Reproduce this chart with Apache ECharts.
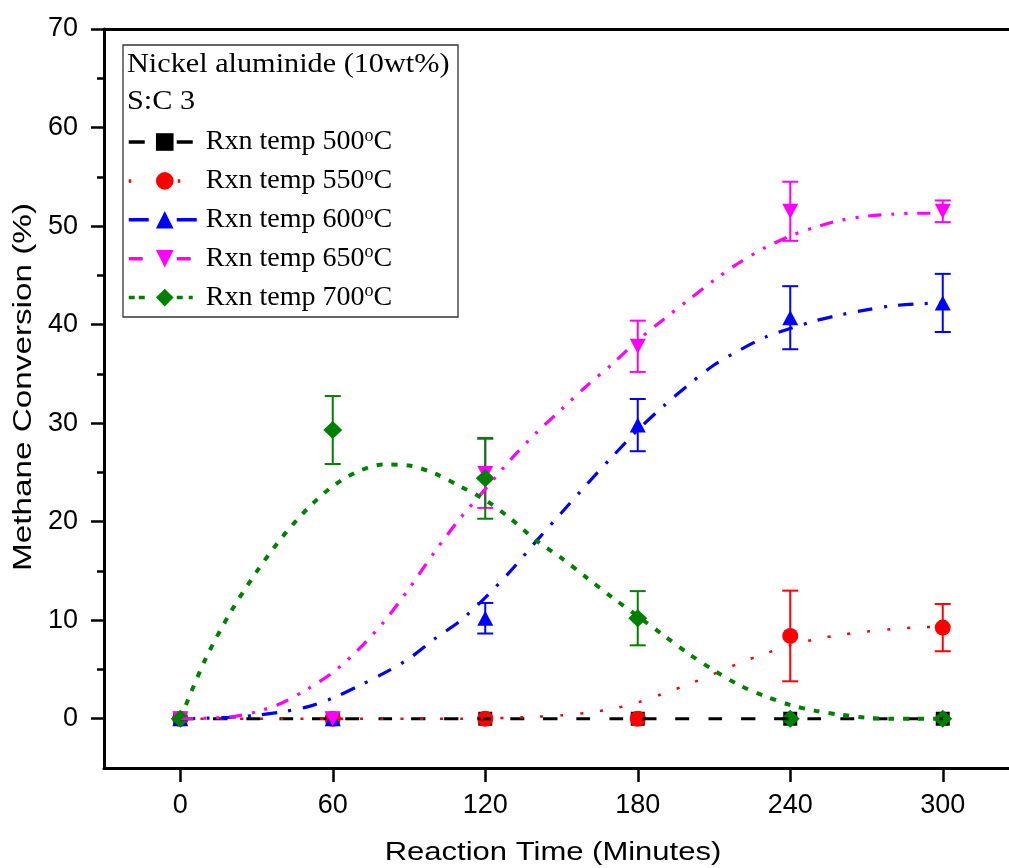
<!DOCTYPE html>
<html>
<head>
<meta charset="utf-8">
<script src="https://cdn.jsdelivr.net/npm/echarts@6/dist/echarts.min.js"></script>
<style>
  html, body { margin: 0; padding: 0; background: #fff; }
  #chart { width: 1009px; height: 868px; }
</style>
</head>
<body>
<div id="chart"></div>
<script>
// Sampling times (minutes) of the measured points
const times = [0, 60, 120, 180, 240, 300];

// Axis ticks
const xTicks = [0, 60, 120, 180, 240, 300];
const yTicks = [0, 10, 20, 30, 40, 50, 60, 70];
const yMinorTicks = [5, 15, 25, 35, 45, 55, 65];

// Reaction temperatures (°C)
const temps = ['500', '550', '600', '650', '700'];

// Mean methane conversion (%) at each sampling time
const conv500 = [0, 0, 0, 0, 0, 0];
const conv550 = [0, 0, 0, 0, 8.4, 9.25];
const conv600 = [0, 0, 10.2, 29.8, 40.7, 42.2];
const conv650 = [0, 0, 24.9, 37.8, 51.5, 51.5];
const conv700 = [0, 29.3, 24.4, 10.2, 0, 0];

// Standard deviation of each point (%)
const err500 = [0, 0, 0, 0, 0, 0];
const err550 = [0, 0, 0, 0, 4.6, 2.4];
const err600 = [0, 0, 1.55, 2.65, 3.2, 2.95];
const err650 = [0, 0, 3.5, 2.6, 3.0, 1.1];
const err700 = [0, 3.45, 4.1, 2.75, 0, 0];

// Fitted trend curves, sampled every 10 minutes
const fitTimes = [0, 10, 20, 30, 40, 50, 60, 70, 80, 90, 100, 110, 120, 130, 140, 150,
                  160, 170, 180, 190, 200, 210, 220, 230, 240, 250, 260, 270, 280, 290, 300];
const fit500 = [0, 0, 0, 0, 0, 0, 0, 0, 0, 0, 0, 0, 0, 0, 0, 0,
                0, 0, 0, 0, 0, 0, 0, 0, 0, 0, 0, 0, 0, 0, 0];
const fit550 = [0, 0, 0, 0, 0, 0, 0, 0, 0, 0, 0, 0, 0.05, 0.1, 0.2, 0.35,
                0.6, 1.0, 1.65, 2.55, 3.5, 4.55, 5.65, 6.6, 7.45, 8.07, 8.52, 8.85, 9.1, 9.27, 9.35];
const fit600 = [0, 0.05, 0.15, 0.35, 0.7, 1.2, 2.1, 3.3, 4.6, 6.1, 8.1, 9.9, 12.3, 15.0, 18.0, 20.9,
                23.8, 26.6, 29.3, 31.7, 33.9, 35.9, 37.4, 38.7, 39.6, 40.4, 41.0, 41.5, 41.9, 42.1, 42.2];
const fit650 = [0, 0.05, 0.2, 0.7, 1.6, 3.0, 4.7, 7.0, 9.8, 13.2, 16.9, 20.3, 23.3, 26.3, 29.0, 31.4,
                33.8, 36.0, 38.4, 40.5, 42.5, 44.5, 46.3, 47.8, 49.0, 49.9, 50.6, 51.0, 51.2, 51.3, 51.3];
const fit700 = [0, 6.1, 10.9, 14.9, 18.4, 21.3, 23.6, 25.1, 25.8, 25.7, 24.9, 23.6, 22.2, 20.3, 18.1, 16.3,
                14.3, 12.3, 10.4, 8.5, 6.6, 4.9, 3.4, 2.3, 1.4, 0.8, 0.4, 0.1, 0, 0, 0];

const means = [conv500, conv550, conv600, conv650, conv700];
const errs = [err500, err550, err600, err650, err700];
const fits = [fit500, fit550, fit600, fit650, fit700];

// Per-temperature styling
const colors = ['#000000', '#ff0000', '#0000ff', '#ff00ff', '#008000'];
const symbols = ['rect', 'circle', 'triangle', 'triangle', 'diamond'];
const symbolRotations = [0, 0, 0, 180, 0];
const symbolSizes = [14, 16, [16, 15], [16, 15], [19, 18]];
const lineWidths = [3, 2.5, 3.2, 3.2, 4];
const dashes = [
  [14, 19],
  [3, 17],
  [15, 11.5, 3, 11.5],
  [13, 10, 3, 10, 3, 10],
  [6, 9]
];
// Dash layout of the short line segments in the legend keys
const legendDashes = [
  [16, 32, 16, 100],
  [2.5, 46.5, 2.5, 100],
  [20, 28, 20, 100],
  [14, 34, 14, 100],
  [6, 4, 6, 32, 6, 6, 4, 100]
];

const sansFont = '"Liberation Sans", Arial, sans-serif';
const serifFont = '"Liberation Serif", "Times New Roman", serif';

function errorBars(k) {
  const color = colors[k];
  const data = [];
  times.forEach((t, i) => {
    if (errs[k][i] > 0) data.push([t, means[k][i] - errs[k][i], means[k][i] + errs[k][i]]);
  });
  return {
    type: 'custom',
    name: temps[k] + ' error',
    silent: true,
    clip: false,
    data: data,
    encode: { x: 0, y: [1, 2] },
    renderItem(params, api) {
      const x = api.value(0);
      const lo = api.coord([x, api.value(1)]);
      const hi = api.coord([x, api.value(2)]);
      const half = 8;
      const style = { stroke: color, lineWidth: 2, fill: null };
      return {
        type: 'group',
        children: [
          { type: 'line', shape: { x1: lo[0], y1: lo[1], x2: hi[0], y2: hi[1] }, style: style },
          { type: 'line', shape: { x1: lo[0] - half, y1: lo[1], x2: lo[0] + half, y2: lo[1] }, style: style },
          { type: 'line', shape: { x1: hi[0] - half, y1: hi[1], x2: hi[0] + half, y2: hi[1] }, style: style }
        ]
      };
    }
  };
}

const series = [];
temps.forEach((temp, k) => {
  // fitted curve (also carries the legend entry: line + symbol)
  series.push({
    type: 'line',
    name: temp,
    data: fitTimes.map((t, i) => [t, fits[k][i]]),
    smooth: 0.3,
    showSymbol: false,
    symbol: symbols[k],
    symbolRotate: symbolRotations[k],
    silent: true,
    itemStyle: { color: colors[k] },
    lineStyle: { color: colors[k], width: lineWidths[k], type: dashes[k], cap: 'butt' }
  });
  series.push(errorBars(k));
  // measured points
  series.push({
    type: 'scatter',
    name: temp + ' data',
    data: times.map((t, i) => [t, means[k][i]]),
    symbol: symbols[k],
    symbolRotate: symbolRotations[k],
    symbolSize: symbolSizes[k],
    silent: true,
    itemStyle: { color: colors[k], opacity: 1 }
  });
});

const axisLineStyle = { color: '#000', width: 3 };
const tickStyle = { color: '#000', width: 2.5 };

const option = {
  animation: false,
  backgroundColor: '#fff',
  grid: { left: 104, top: 29, width: 915, height: 739, containLabel: false, outerBoundsMode: 'none' },
  xAxis: [
    {
      type: 'value', min: -30, max: 330, position: 'bottom',
      axisLine: { show: true, onZero: false, lineStyle: axisLineStyle },
      axisTick: { show: true, inside: false, length: 14, customValues: xTicks, lineStyle: tickStyle },
      axisLabel: { customValues: xTicks, margin: 24, fontSize: 27, color: '#000', fontFamily: sansFont },
      splitLine: { show: false }
    },
    {
      type: 'value', min: -30, max: 330, position: 'top',
      axisLine: { show: true, onZero: false, lineStyle: axisLineStyle },
      axisTick: { show: false }, axisLabel: { show: false }, splitLine: { show: false }
    }
  ],
  yAxis: [
    {
      type: 'value', min: -5, max: 70, position: 'left',
      axisLine: { show: true, onZero: false, lineStyle: axisLineStyle },
      axisTick: { show: true, inside: false, length: 13, customValues: yTicks, lineStyle: tickStyle },
      axisLabel: { customValues: yTicks, margin: 26, fontSize: 27, color: '#000', fontFamily: sansFont },
      splitLine: { show: false }
    },
    {
      type: 'value', min: -5, max: 70, position: 'left', offset: 0,
      axisLine: { show: false, onZero: false },
      axisTick: { show: true, inside: false, length: 7, customValues: yMinorTicks, lineStyle: tickStyle },
      axisLabel: { show: false }, splitLine: { show: false }
    }
  ],
  legend: {
    data: temps.map((t, k) => ({
      name: t,
      lineStyle: { type: legendDashes[k], width: 3.5, cap: 'butt' }
    })),
    orient: 'vertical',
    left: 127,
    top: 127,
    itemWidth: 72,
    itemHeight: 22,
    itemGap: 9.9,
    padding: 0,
    selectedMode: false,
    formatter: (n) => '{t|Rxn temp ' + n + '}{s|o}{t|C}',
    textStyle: {
      rich: {
        t: { fontFamily: serifFont, fontSize: 28, lineHeight: 30, color: '#000' },
        s: { fontFamily: serifFont, fontSize: 18, lineHeight: 18, color: '#000', verticalAlign: 'top' }
      }
    }
  },
  graphic: [
    {
      type: 'rect', z: 50,
      shape: { x: 123, y: 45, width: 335, height: 272 },
      style: { fill: 'rgba(0,0,0,0)', stroke: '#333', lineWidth: 1.3 }
    },
    {
      type: 'text', z: 50, x: 127, y: 65, scaleX: 1.08,
      style: { text: 'Nickel aluminide (10wt%)', fontFamily: serifFont, fontSize: 28, fill: '#000', verticalAlign: 'middle' }
    },
    {
      type: 'text', z: 50, x: 127, y: 102, scaleX: 1.08,
      style: { text: 'S:C 3', fontFamily: serifFont, fontSize: 28, fill: '#000', verticalAlign: 'middle' }
    },
    // axis titles
    {
      type: 'text', z: 50, x: 553, y: 853, scaleX: 1.17,
      style: { text: 'Reaction Time (Minutes)', fontFamily: sansFont, fontSize: 26.5, fill: '#000',
               align: 'center', verticalAlign: 'middle' }
    },
    {
      type: 'text', z: 50, x: 24, y: 387, rotation: Math.PI / 2, scaleX: 1.3,
      style: { text: 'Methane Conversion (%)', fontFamily: sansFont, fontSize: 25.6, fill: '#000',
               align: 'center', verticalAlign: 'middle' }
    }
  ],
  series: series
};

const chart = echarts.init(document.getElementById('chart'), null, { renderer: 'canvas' });
chart.setOption(option);
</script>
</body>
</html>
